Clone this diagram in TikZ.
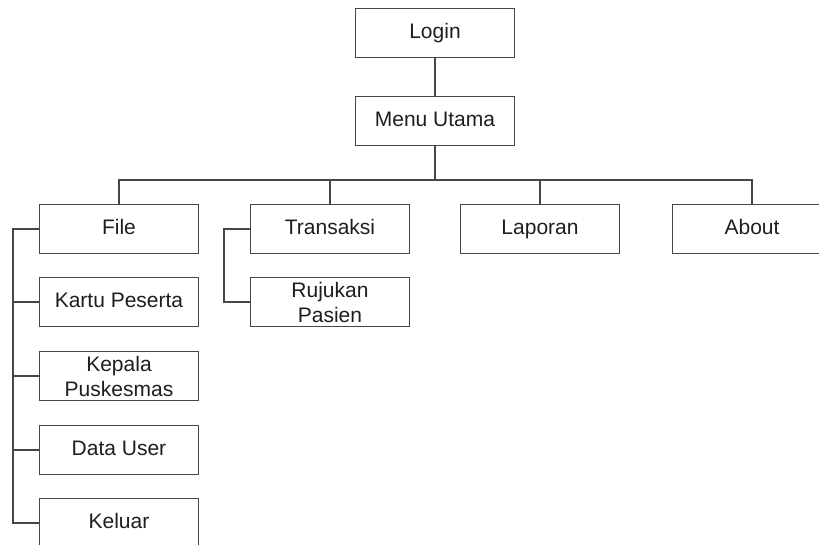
\documentclass[tikz,border=0pt]{standalone}
\usepackage{fontspec}
\setmainfont{Liberation Sans}
\usepackage{xcolor}
\definecolor{boxline}{RGB}{70, 70, 70}
\definecolor{boxtext}{RGB}{30, 30, 30}

\begin{document}
\begin{tikzpicture}[
    x=1pt, y=-1pt,
    menubox/.style={
        draw=boxline,
        line width=1.3pt,
        minimum width=159pt,
        minimum height=49pt,
        inner sep=0pt,
        align=center,
        text=boxtext,
        text height=15pt,
        text depth=4pt,
        font=\fontsize{21}{25}\selectfont
    },
    twoline/.style={text height={}, text depth={}},
    link/.style={draw=boxline, line width=1.3pt}
]
    \clip (0,0) rectangle (819,544);
    % top of the tree
    \node[menubox] (login) at (435,33) {Login};
    \node[menubox] (menu) at (435,121) {Menu Utama};
    % main menu items
    \node[menubox] (file) at (119,229) {File};
    \node[menubox] (transaksi) at (330,229) {Transaksi};
    \node[menubox] (laporan) at (540,229) {Laporan};
    \node[menubox] (about) at (752,229) {About};
    % sub items
    \node[menubox] (kartu) at (119,302) {Kartu Peserta};
    \node[menubox, twoline] (kepala) at (119,376) {Kepala\\Puskesmas};
    \node[menubox] (datauser) at (119,450) {Data User};
    \node[menubox] (keluar) at (119,523) {Keluar};
    \node[menubox, twoline] (rujukan) at (330,302) {Rujukan\\Pasien};

    \coordinate (bus) at (435,180);
    \coordinate (filespine) at (13,229);
    \coordinate (transspine) at (224,229);

    \draw[link] (login) -- (menu);
    \draw[link] (menu.south) -- (bus);
    \draw[link] (bus) -| (file.north);
    \draw[link] (bus) -| (transaksi.north);
    \draw[link] (bus) -| (laporan.north);
    \draw[link] (bus) -| (about.north);

    \draw[link] (file.west) -- (filespine) |- (keluar.west);
    \draw[link] (filespine) |- (kartu.west);
    \draw[link] (filespine) |- (kepala.west);
    \draw[link] (filespine) |- (datauser.west);

    \draw[link] (transaksi.west) -- (transspine) |- (rujukan.west);
\end{tikzpicture}
\end{document}
